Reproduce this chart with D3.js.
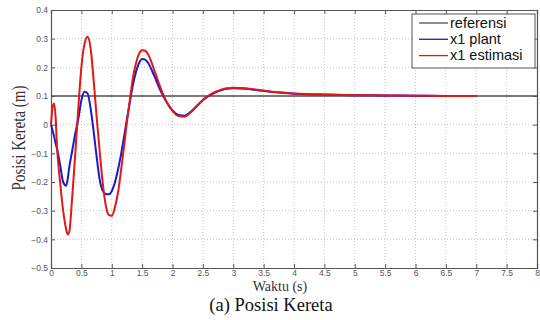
<!DOCTYPE html>
<html>
<head>
<meta charset="utf-8">
<script src="https://cdn.jsdelivr.net/npm/d3@7"></script>
<style>
  html, body { margin: 0; padding: 0; background: #fff; }
  svg { display: block; }
</style>
</head>
<body>
<svg id="chart" width="540" height="320"></svg>
<script>
// ---- data ----
const timeS = [0, 0.025, 0.05, 0.075, 0.1, 0.15, 0.2, 0.25, 0.275, 0.3, 0.35, 0.4, 0.45, 0.5, 0.55, 0.6, 0.65, 0.7, 0.75, 0.8, 0.85, 0.9, 0.95, 1.0, 1.05, 1.1, 1.15, 1.2, 1.25, 1.3, 1.35, 1.4, 1.45, 1.5, 1.55, 1.6, 1.7, 1.8, 1.9, 2.0, 2.1, 2.2, 2.3, 2.4, 2.5, 2.6, 2.7, 2.8, 2.9, 3.0, 3.2, 3.4, 3.6, 3.8, 4.0, 4.5, 5.0, 5.5, 6.0, 6.5, 7.0];
const x1Plant = [0, -0.02, -0.04, -0.065, -0.085, -0.14, -0.2, -0.213, -0.19, -0.15, -0.09, -0.03, 0.02, 0.085, 0.115, 0.11, 0.06, -0.02, -0.11, -0.19, -0.23, -0.242, -0.243, -0.232, -0.203, -0.16, -0.107, -0.045, 0.019, 0.081, 0.14, 0.185, 0.215, 0.229, 0.227, 0.215, 0.17, 0.12, 0.08, 0.05, 0.034, 0.031, 0.045, 0.065, 0.085, 0.1, 0.112, 0.12, 0.125, 0.127, 0.125, 0.12, 0.115, 0.111, 0.108, 0.105, 0.103, 0.102, 0.101, 0.1, 0.1];
const x1Estimasi = [0, 0.06, 0.074, 0.03, -0.08, -0.2, -0.3, -0.365, -0.383, -0.375, -0.25, -0.1, 0.06, 0.2, 0.28, 0.307, 0.27, 0.16, 0.03, -0.09, -0.2, -0.28, -0.315, -0.318, -0.29, -0.24, -0.165, -0.08, 0.01, 0.09, 0.165, 0.215, 0.248, 0.26, 0.258, 0.245, 0.19, 0.13, 0.08, 0.048, 0.03, 0.028, 0.043, 0.065, 0.087, 0.102, 0.114, 0.122, 0.127, 0.129, 0.127, 0.122, 0.116, 0.112, 0.109, 0.105, 0.103, 0.102, 0.101, 0.1, 0.1];
const refTime = [0, 8];
const refValue = [0.1, 0.1];
const xTickValues = [0, 0.5, 1, 1.5, 2, 2.5, 3, 3.5, 4, 4.5, 5, 5.5, 6, 6.5, 7, 7.5, 8];
const yTickValues = [-0.5, -0.4, -0.3, -0.2, -0.1, 0, 0.1, 0.2, 0.3, 0.4];
const seriesNames = ["referensi", "x1 plant", "x1 estimasi"];
const seriesColors = ["#505050", "#1a1ad0", "#e01818"];
const xLabel = "Waktu (s)";
const yLabel = "Posisi Kereta (m)";
const caption = "(a) Posisi Kereta";

// ---- layout ----
const L = 51, R = 537, T = 10, B = 268;
const svg = d3.select("#chart");
const x = d3.scaleLinear().domain([0, 8]).range([L, R]);
const y = d3.scaleLinear().domain([-0.5, 0.4]).range([B, T]);

// grid
const grid = svg.append("g").attr("stroke", "#b8b8b8").attr("stroke-width", 0.8).attr("stroke-dasharray", "1,2");
grid.selectAll("line.vx").data(xTickValues.slice(1, -1)).enter().append("line")
  .attr("x1", d => x(d)).attr("x2", d => x(d)).attr("y1", T).attr("y2", B);
grid.selectAll("line.hy").data(yTickValues.slice(1, -1)).enter().append("line")
  .attr("y1", d => y(d)).attr("y2", d => y(d)).attr("x1", L).attr("x2", R);

// axes
const fmt = d => d3.format("")(d);
const axB = d3.axisBottom(x).tickValues(xTickValues).tickSize(-4).tickPadding(2).tickFormat(fmt);
const axT = d3.axisTop(x).tickValues(xTickValues).tickSize(-4).tickFormat("");
const axL = d3.axisLeft(y).tickValues(yTickValues).tickSize(-4).tickPadding(3).tickFormat(fmt);
const axR = d3.axisRight(y).tickValues(yTickValues).tickSize(-4).tickFormat("");
function styleAxis(g) {
  g.select(".domain").attr("stroke", "#555").attr("stroke-width", 1.2);
  g.selectAll(".tick line").attr("stroke", "#555");
  g.selectAll(".tick text").attr("fill", "#555").style("font-family", "Arial, 'Liberation Sans', sans-serif").style("font-size", "8.5px");
}
svg.append("g").attr("transform", `translate(0,${B})`).call(axB).call(styleAxis);
svg.append("g").attr("transform", `translate(0,${T})`).call(axT).call(styleAxis);
svg.append("g").attr("transform", `translate(${L},0)`).call(axL).call(styleAxis);
svg.append("g").attr("transform", `translate(${R},0)`).call(axR).call(styleAxis);

// lines
const line = d3.line().x(d => x(d[0])).y(d => y(d[1])).curve(d3.curveMonotoneX);
const refData = refTime.map((t, i) => [t, refValue[i]]);
const plantData = timeS.map((t, i) => [t, x1Plant[i]]);
const estData = timeS.map((t, i) => [t, x1Estimasi[i]]);
svg.append("path").datum(refData).attr("d", line).attr("fill", "none").attr("stroke", seriesColors[0]).attr("stroke-width", 1.5);
svg.append("path").datum(plantData).attr("d", line).attr("fill", "none").attr("stroke", seriesColors[1]).attr("stroke-width", 2);
svg.append("path").datum(estData).attr("d", line).attr("fill", "none").attr("stroke", seriesColors[2]).attr("stroke-width", 2);

// legend
const lg = svg.append("g");
lg.append("rect").attr("x", 412).attr("y", 14).attr("width", 123).attr("height", 54)
  .attr("fill", "#fff").attr("stroke", "#555").attr("stroke-width", 1);
seriesNames.forEach((name, i) => {
  const yy = 23 + i * 16.3;
  lg.append("line").attr("x1", 419).attr("x2", 448).attr("y1", yy).attr("y2", yy)
    .attr("stroke", seriesColors[i]).attr("stroke-width", 1.3);
  lg.append("text").attr("x", 450).attr("y", yy + 4.5).text(name)
    .style("font-family", "Arial, 'Liberation Sans', sans-serif").style("font-size", "14.5px").attr("fill", "#111");
});

// labels
svg.append("text").attr("x", 280).attr("y", 291).attr("text-anchor", "middle").text(xLabel)
  .style("font-family", "'Times New Roman', 'Liberation Serif', serif").style("font-size", "14px").attr("fill", "#333");
svg.append("text").attr("transform", "translate(25,138) rotate(-90) scale(1,1.2)").attr("text-anchor", "middle").text(yLabel)
  .style("font-family", "'Times New Roman', 'Liberation Serif', serif").style("font-size", "15px").attr("fill", "#333");
svg.append("text").attr("x", 271).attr("y", 311).attr("text-anchor", "middle").text(caption)
  .style("font-family", "'Times New Roman', 'Liberation Serif', serif").style("font-size", "18.5px").attr("fill", "#111");
</script>
</body>
</html>
